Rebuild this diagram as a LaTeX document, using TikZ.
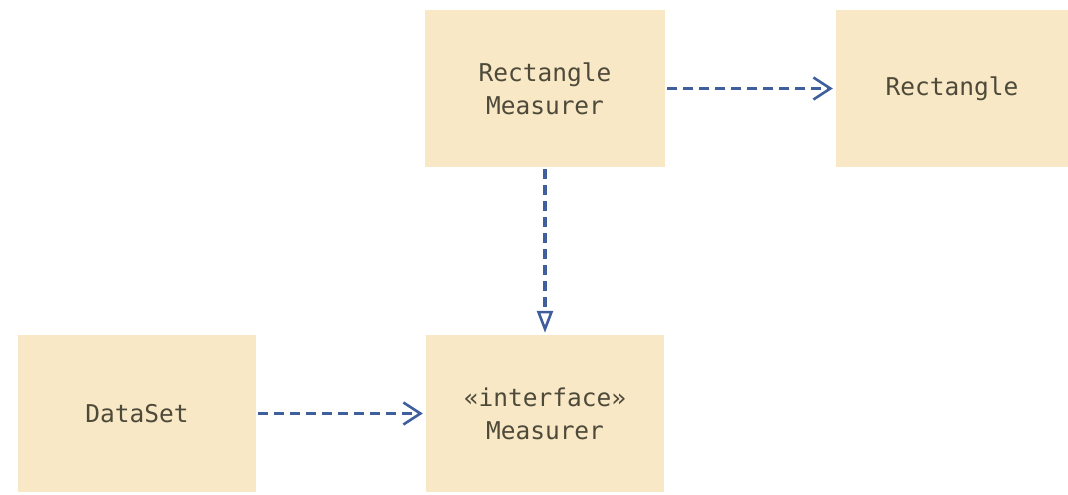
\documentclass[tikz,border=0pt]{standalone}
\usepackage{fontspec}
\setmonofont{DejaVu Sans Mono}
\usetikzlibrary{arrows.meta}
\definecolor{boxfill}{HTML}{F8E8C6}
\definecolor{txt}{HTML}{4E4A3A}
\definecolor{arr}{HTML}{3F5E9C}
\tikzset{
  classbox/.style={fill=boxfill, draw=none, minimum width=240pt, minimum height=157pt,
    inner sep=0pt, align=center, text=txt, font=\ttfamily\fontsize{24.5}{33}\selectfont},
  dep/.style={draw=arr, line width=3.2pt, dash pattern=on 10pt off 6pt,
    -{Straight Barb[length=17pt,width=22pt,line width=2.6pt]}},
  real/.style={draw=arr, line width=3.2pt, dash pattern=on 10pt off 6pt,
    -{Triangle[open,length=22pt,width=16pt,line width=2.6pt]}}
}
\begin{document}
\begin{tikzpicture}[x=1pt,y=-1pt]
\useasboundingbox (0,0) rectangle (1068,495);
\node[classbox] (rm) at (545,88.5) {Rectangle\\Measurer};
\node[classbox, minimum width=232pt] (rect) at (952,88.5) {Rectangle};
\node[classbox, minimum width=238pt] (ds) at (137,413.5) {DataSet};
\node[classbox, minimum width=238pt] (ms) at (545,413.5) {«interface»\\Measurer};
\draw[dep, shorten <=2pt, shorten >=3pt] (rm.east) -- (rect.west);
\draw[real, shorten <=2pt, shorten >=2pt] (rm.south) -- (ms.north);
\draw[dep, shorten <=2pt, shorten >=3pt] (ds.east) -- (ms.west);
\end{tikzpicture}
\end{document}
